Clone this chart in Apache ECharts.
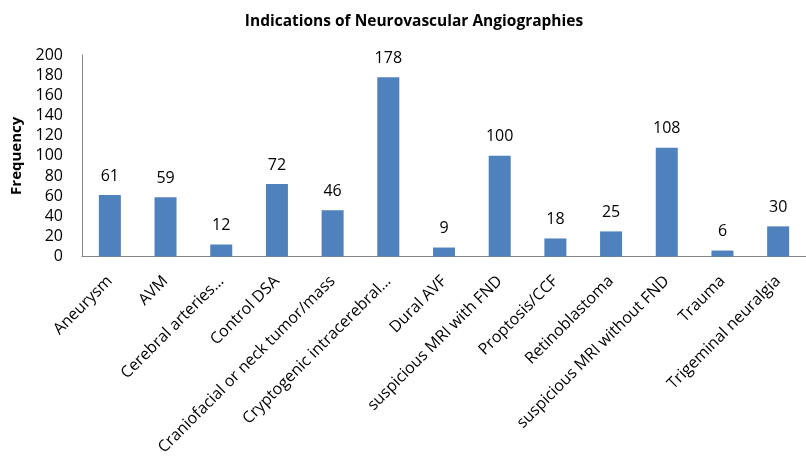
<!DOCTYPE html>
<html>
<head>
<meta charset="utf-8">
<title>Indications of Neurovascular Angiographies</title>
<script src="https://cdn.jsdelivr.net/npm/echarts@6/dist/echarts.min.js"></script>
<style>
  html, body { margin: 0; padding: 0; background: #fff; }
  #chart { width: 806px; height: 458px; }
</style>
</head>
<body>
<div id="chart"></div>
<script>
// Indications (category labels as printed, two are cut off with an ellipsis)
const indications = [
  "Aneurysm",
  "AVM",
  "Cerebral arteries…",
  "Control DSA",
  "Craniofacial or neck tumor/mass",
  "Cryptogenic intracerebral…",
  "Dural AVF",
  "suspicious MRI with FND",
  "Proptosis/CCF",
  "Retinoblastoma",
  "suspicious MRI without FND",
  "Trauma",
  "Trigeminal neuralgia",
];
const frequency = [61, 59, 12, 72, 46, 178, 9, 100, 18, 25, 108, 6, 30];
const yTicks = [0, 20, 40, 60, 80, 100, 120, 140, 160, 180, 200];

const FONT = "'Open Sans', sans-serif";
const chart = echarts.init(document.getElementById("chart"));

chart.setOption({
  animation: false,
  backgroundColor: "#fff",
  title: {
    text: "Indications of Neurovascular Angiographies",
    left: 409,
    top: 9,
    textAlign: "center",
    textStyle: { fontFamily: FONT, fontSize: 15.5, fontWeight: "bold", color: "#000" },
  },
  grid: {
    left: 82,
    top: 55,
    width: 734,
    height: 203,
    containLabel: false,
  },
  xAxis: {
    type: "category",
    data: indications,
    axisLine: { show: true, lineStyle: { color: "#868686", width: 1 } },
    axisTick: { show: false },
    axisLabel: {
      interval: 0,
      rotate: 45,
      margin: 22,
      fontFamily: FONT,
      fontSize: 16,
      color: "#000",
    },
  },
  yAxis: {
    type: "value",
    min: yTicks[0],
    max: yTicks[yTicks.length - 1],
    interval: 20,
    name: "Frequency",
    nameLocation: "middle",
    nameGap: 58,
    nameTextStyle: { fontFamily: FONT, fontSize: 15, fontWeight: "bold", color: "#000" },
    axisLine: { show: true, lineStyle: { color: "#868686", width: 1 } },
    axisTick: { show: false },
    splitLine: { show: false },
    axisLabel: {
      margin: 19,
      fontFamily: FONT,
      fontSize: 16,
      color: "#000",
    },
  },
  series: [
    {
      type: "bar",
      data: frequency,
      barWidth: 22,
      itemStyle: { color: "#4f81bd" },
      label: {
        show: true,
        position: "top",
        distance: 11,
        fontFamily: FONT,
        fontSize: 16,
        color: "#000",
      },
    },
  ],
});
</script>
</body>
</html>
